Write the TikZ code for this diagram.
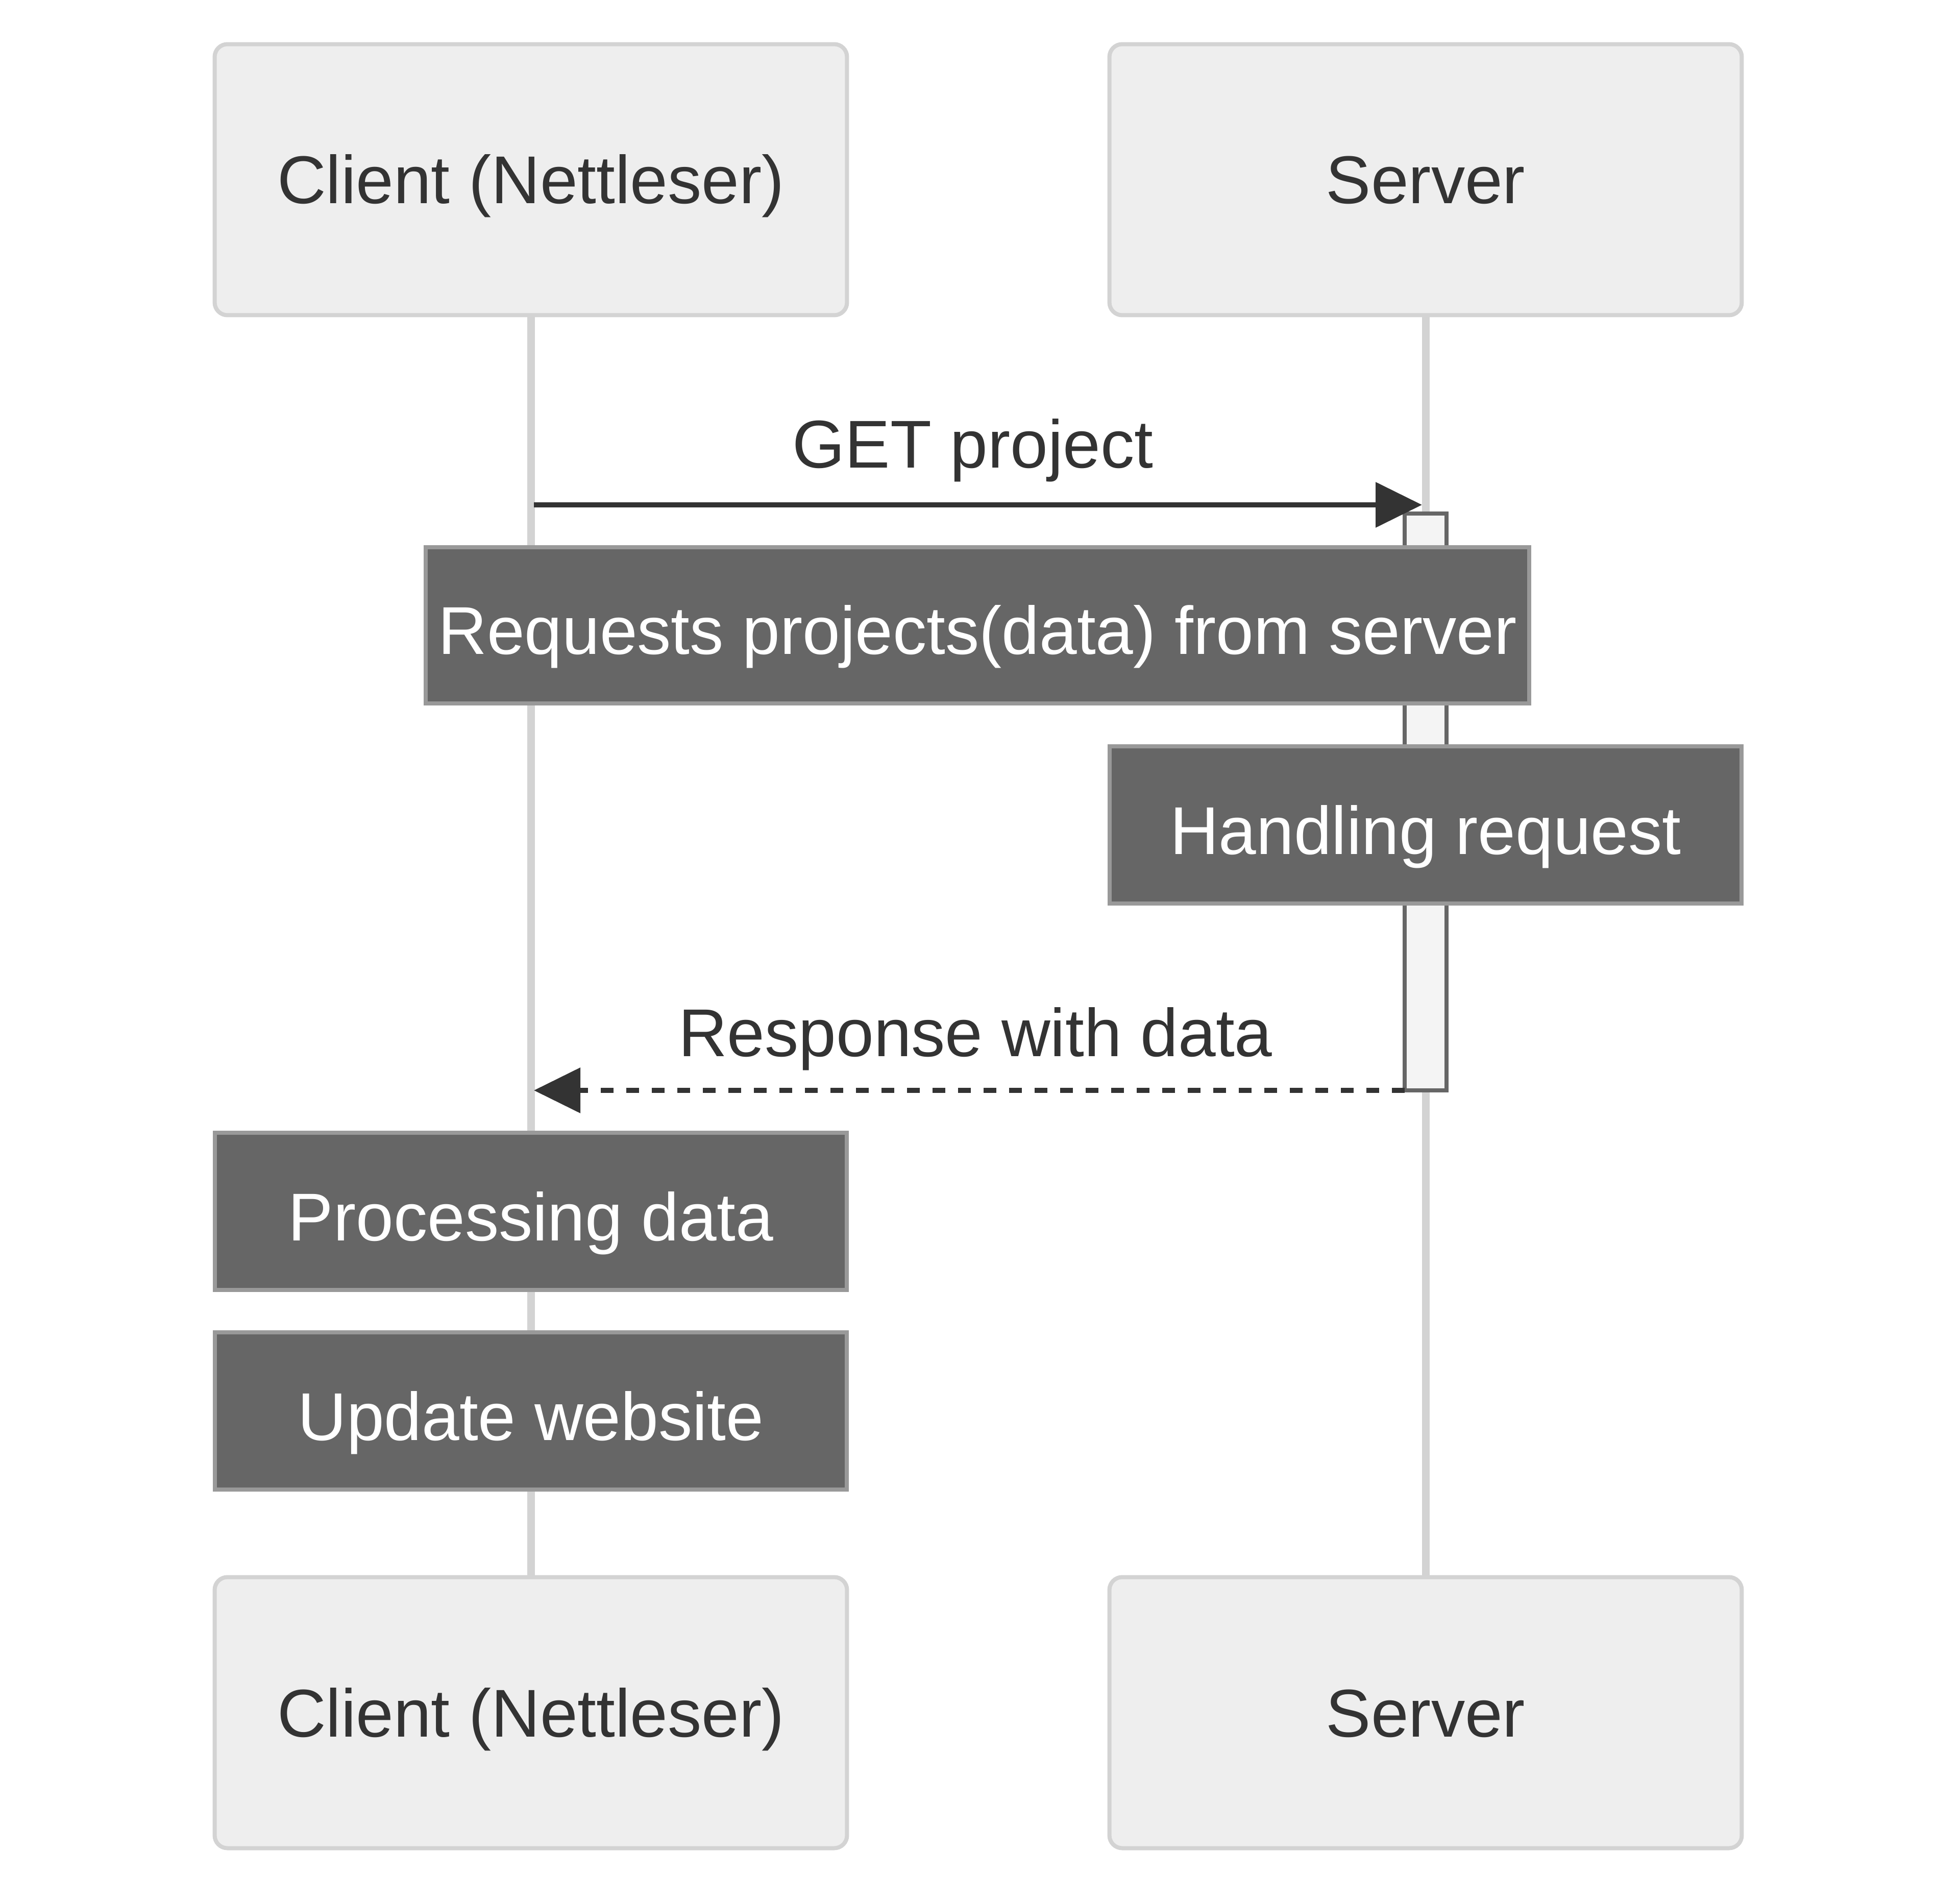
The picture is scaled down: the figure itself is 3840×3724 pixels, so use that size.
\documentclass[tikz,border=0pt]{standalone}
\usepackage{fontspec}
\setmainfont{Liberation Sans}
\usetikzlibrary{arrows.meta}
\definecolor{txtc}{HTML}{333333}
\definecolor{actfill}{HTML}{EEEEEE}
\definecolor{actline}{HTML}{D3D3D3}
\definecolor{notefill}{HTML}{666666}
\definecolor{noteline}{HTML}{999999}
\definecolor{activfill}{HTML}{F4F4F4}
\definecolor{activline}{HTML}{666666}
\begin{document}
\begin{tikzpicture}[x=0.1pt,y=-0.1pt,
  every node/.style={font=\fontsize{13.25pt}{16pt}\selectfont, inner sep=0pt},
  actorbox/.style={draw=actline, fill=actfill, line width=0.8pt, rounded corners=2.5pt,
    minimum width=123.9pt, minimum height=53.1pt, text=txtc, text height=9.4pt, text depth=0pt},
  notebox/.style={draw=noteline, fill=notefill, line width=0.8pt, text=white,
    text height=11.4pt, text depth=0pt},
  lifeline/.style={draw=actline, line width=1.5pt},
  msg/.style={draw=txtc, line width=1pt, -{Triangle[length=9.1pt,width=8.7pt]}},
  msglabel/.style={text=txtc, anchor=base}
]
\useasboundingbox (0,0) rectangle (3840,3724);
\fill[white] (0,0) rectangle (3840,3724);

% actors
\node[actorbox] (ct) at (1040,352) {Client (Nettleser)};
\node[actorbox] (st) at (2793,352) {Server};
\node[actorbox] (cb) at (1040,3355) {Client (Nettleser)};
\node[actorbox] (sb) at (2793,3355) {Server};

% lifelines
\draw[lifeline] (ct.south) -- (cb.north);
\draw[lifeline] (st.south) -- (sb.north);

% activation
\draw[draw=activline, fill=activfill, line width=0.8pt] (2752,1006) rectangle (2834,2136);
\coordinate (actl) at (2752,2136);

% message 1
\coordinate (m1s) at (1046,989);
\coordinate (m1e) at (2786,989);
\draw[msg] (m1s) -- (m1e);
\node[msglabel] (l1) at (1906,917) {GET project};

% message 2
\coordinate (m2e) at (1046,2136);
\draw[msg, dash pattern=on 2.5pt off 2.5pt] (actl) -- (m2e);
\node[msglabel] (l2) at (1911,2069) {Response with data};

% notes
\node[notebox, minimum width=216.2pt, minimum height=30.6pt] (n1) at (1915,1225) {Requests projects(data) from server};
\node[notebox, minimum width=123.9pt, minimum height=30.8pt] (n2) at (2793,1616) {Handling request};
\node[notebox, minimum width=123.9pt, minimum height=30.8pt] (n3) at (1040,2373) {Processing data};
\node[notebox, minimum width=123.9pt, minimum height=30.8pt] (n4) at (1040,2764) {Update website};
\end{tikzpicture}
\end{document}
